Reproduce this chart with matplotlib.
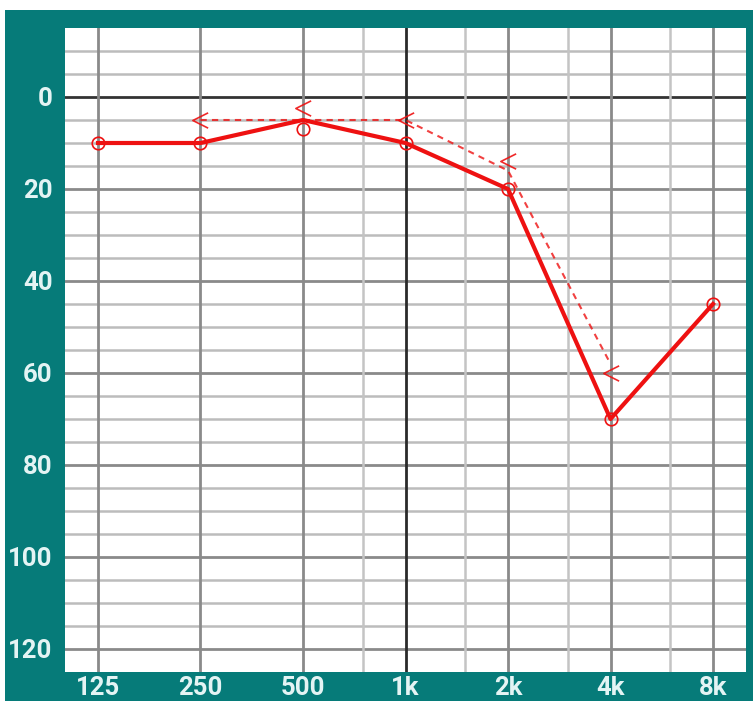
import numpy as np
import matplotlib.pyplot as plt
from matplotlib.path import Path
from matplotlib.patches import Rectangle

# Frequencies (Hz) and hearing levels (dB HL)
freqs = [125, 250, 500, 1000, 2000, 4000, 8000]
freq_labels = ["125", "250", "500", "1k", "2k", "4k", "8k"]
air_line = [10, 10, 5, 10, 20, 70, 45]
air_marks = [10, 10, 7, 10, 20, 70, 45]

bone_freqs = [250, 500, 1000, 2000, 4000]
bone_line = [5, 5, 5, 16, 58]
bone_marks = [5, 2.5, 5, 14, 60]

db_ticks = [0, 20, 40, 60, 80, 100, 120]
half_octaves = [750, 1500, 3000, 6000]

teal = "#067b79"
red = "#ee1111"
label_color = "#e4f4f4"
font = ["Roboto", "DejaVu Sans"]

fig = plt.figure(figsize=(7.53, 7.01), dpi=100, facecolor="white")
frame = Rectangle((5 / 753, 0), 1, 1 - 10 / 701, transform=fig.transFigure,
                  facecolor=teal, edgecolor="none", zorder=-5)
fig.add_artist(frame)
ax = fig.add_axes([65 / 753, 1 - 672 / 701, 681 / 753, 644 / 701])
ax.set_zorder(2)
ax.set_facecolor("white")

ax.set_xscale("log", base=2)
ax.set_xlim(100, 10000)
ax.set_ylim(125, -15)

# grid
for d in range(-10, 125, 5):
    if d == 0:
        c, lw = "#333333", 2.0
    elif d % 20 == 0:
        c, lw = "#8a8a8a", 2.0
    else:
        c, lw = "#bcbcbc", 1.8
    ax.axhline(d, color=c, lw=lw, zorder=1)
for f in freqs:
    if f == 1000:
        c, lw = "#2a2a2a", 2.0
    else:
        c, lw = "#8a8a8a", 2.0
    ax.axvline(f, color=c, lw=lw, zorder=1)
for f in half_octaves:
    ax.axvline(f, color="#c4c4c4", lw=1.8, zorder=1)

# air conduction (solid + circles)
ax.plot(freqs, air_line, color=red, lw=3.0, zorder=4)
ax.plot(freqs, air_marks, ls="none", marker="o", ms=9, mfc="none", mec=red, mew=1.2, zorder=5)

# bone conduction (dashed + open "<")
chevron = Path([(1, 1), (-1, 0), (1, -1)], [Path.MOVETO, Path.LINETO, Path.LINETO])
ax.plot(bone_freqs, bone_line, color=red, lw=1.5, ls=(0, (3, 2.5)), alpha=0.8, zorder=3)
ax.plot(bone_freqs, bone_marks, ls="none", marker=chevron, ms=11, mfc="none", mec=red,
        mew=1.2, alpha=0.9, zorder=5)

ax.set_xticks(freqs)
ax.set_xticklabels(freq_labels)
ax.set_yticks(db_ticks)
ax.set_yticklabels([str(d) for d in db_ticks])
ax.minorticks_off()
ax.tick_params(length=0, colors=label_color, labelsize=18.5)
ax.tick_params(axis="y", pad=9)
ax.tick_params(axis="x", pad=3)
for lab in ax.get_xticklabels() + ax.get_yticklabels():
    lab.set_family(font)
    lab.set_fontweight("bold")

for s in ax.spines.values():
    s.set_visible(False)

fig.savefig("out.png", dpi=100, facecolor="white")
